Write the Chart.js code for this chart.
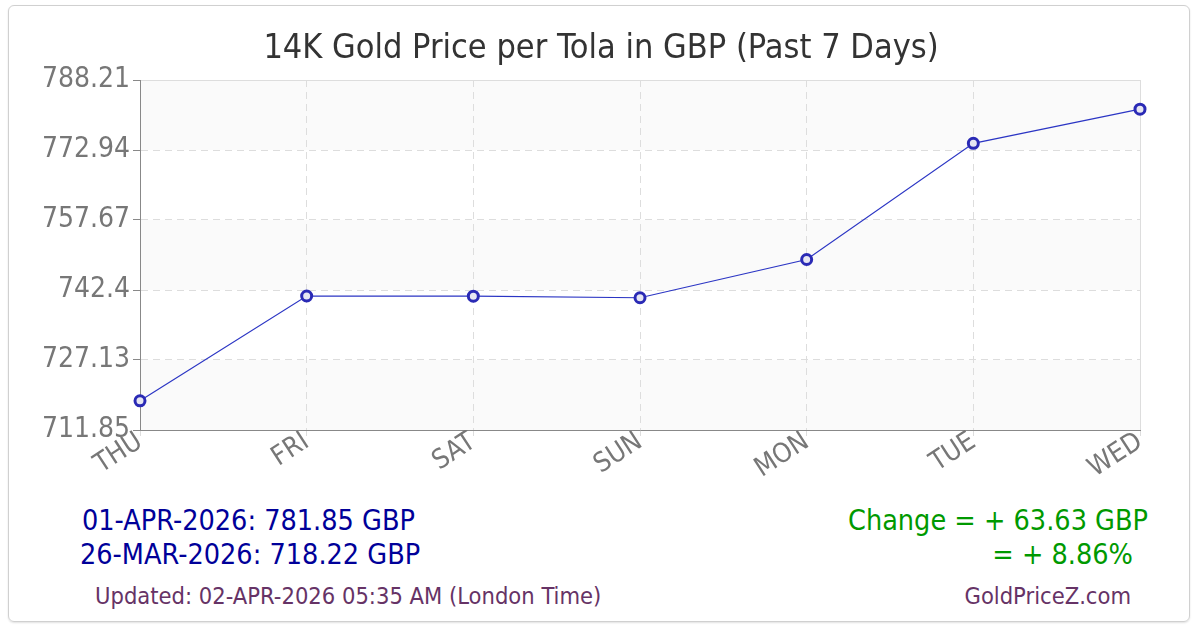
<!DOCTYPE html>
<html>
<head>
<meta charset="utf-8">
<script src="https://cdn.jsdelivr.net/npm/chart.js@4/dist/chart.umd.min.js"></script>
<style>
  html, body { margin: 0; padding: 0; background: #fff; }
  body { width: 1200px; height: 630px; position: relative; overflow: hidden;
         font-family: 'DejaVu Sans Condensed', 'DejaVu Sans', sans-serif; }
  .card { position: absolute; left: 8px; top: 5px; width: 1180px; height: 615px;
          border: 1px solid #d0d0d0; border-radius: 6px; box-shadow: 0 1px 2px rgba(0,0,0,0.12); }
  #wrap { position: absolute; left: 0; top: 0; width: 1200px; height: 480px; }
  .txt { position: absolute; white-space: nowrap; line-height: 1; }
  .title { left: 0; width: 1202px; text-align: center; top: 29px; font-size: 34px; color: #333; }
  .navy { color: #000099; font-size: 28.5px; }
  .green { color: #009900; font-size: 28.5px; }
  .purple { color: #663366; font-size: 23.5px; }
</style>
</head>
<body>
<div class="card"></div>
<div id="wrap"><canvas id="myChart"></canvas></div>

<div class="txt title">14K Gold Price per Tola in GBP (Past 7 Days)</div>
<div class="txt navy" style="left:82px; top:507px;">01-APR-2026: 781.85 GBP</div>
<div class="txt navy" style="left:80px; top:541px;">26-MAR-2026: 718.22 GBP</div>
<div class="txt green" style="right:52px; top:507px;">Change = + 63.63 GBP</div>
<div class="txt green" style="right:67px; top:541px;">= + 8.86%</div>
<div class="txt purple" style="left:95px; top:585px;">Updated: 02-APR-2026 05:35 AM (London Time)</div>
<div class="txt purple" style="right:69px; top:585px;">GoldPriceZ.com</div>

<script>
const FONT = "'DejaVu Sans Condensed', 'DejaVu Sans', sans-serif";

// data
const days = ["THU", "FRI", "SAT", "SUN", "MON", "TUE", "WED"];
const prices = [718.22, 741.08, 741.05, 740.7, 749.05, 774.4, 781.85];
const yTickLabels = ["711.85", "727.13", "742.4", "757.67", "772.94", "788.21"];
const yMin = 711.85;
const yMax = 788.21;

// 배경 띠 + 테두리
const bandPlugin = {
  id: "bands",
  beforeDraw(chart) {
    const { ctx, chartArea: a, scales: { y } } = chart;
    const ticks = y.ticks;
    ctx.save();
    ctx.fillStyle = "#fafafa";
    for (let i = 0; i < ticks.length - 1; i += 2) {
      const y1 = y.getPixelForValue(ticks[i].value);
      const y2 = y.getPixelForValue(ticks[i + 1].value);
      ctx.fillRect(a.left, y2, a.right - a.left, y1 - y2);
    }
    ctx.strokeStyle = "#dddddd";
    ctx.lineWidth = 1;
    ctx.strokeRect(a.left + 0.5, a.top + 0.5, a.right - a.left, a.bottom - a.top);
    ctx.restore();
  },
};

const ctx = document.getElementById("myChart").getContext("2d");
const myChart = new Chart(ctx, {
  type: "line",
  data: {
    labels: days,
    datasets: [
      {
        data: prices,
        borderColor: "#2b35c4",
        borderWidth: 1.2,
        pointRadius: 5,
        pointBorderWidth: 3,
        pointBorderColor: "#2a2ab5",
        pointBackgroundColor: "#e6e6f2",
        fill: false,
        tension: 0,
      },
    ],
  },
  options: {
    responsive: true,
    maintainAspectRatio: false,
    animation: false,
    layout: { padding: { left: 10, right: 60, top: 80, bottom: 0 } },
    plugins: {
      legend: { display: false },
      tooltip: { enabled: false },
    },
    scales: {
      x: {
        offset: false,
        grid: { color: "#dddddd", tickColor: "#dddddd", tickLength: 6 },
        border: { color: "#888888", dash: [7, 5] },
        ticks: {
          color: "#777777",
          font: { family: FONT, size: 27 },
          minRotation: 33,
          maxRotation: 33,
          padding: -10,
        },
        afterFit(scale) { scale.height = 50; },
      },
      y: {
        min: yMin,
        max: yMax,
        grid: { color: "#dddddd", tickColor: "#888888", tickLength: 7 },
        border: { color: "#888888", dash: [7, 5] },
        afterBuildTicks(scale) {
          scale.ticks = yTickLabels.map((t, i) => ({ value: yMin + (i * (yMax - yMin)) / (yTickLabels.length - 1) }));
        },
        ticks: {
          color: "#777777",
          font: { family: FONT, size: 28 },
          padding: 3,
          callback: (v, i) => yTickLabels[i],
        },
        afterFit(scale) { scale.width = 130; },
      },
    },
  },
  plugins: [bandPlugin],
});
</script>
</body>
</html>
